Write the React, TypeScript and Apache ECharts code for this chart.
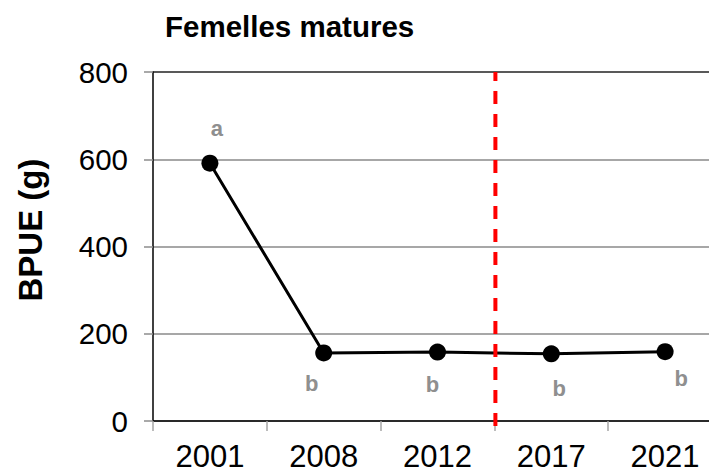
import React, { useEffect, useRef } from "react";
import * as echarts from "echarts";

const years = ["2001", "2008", "2012", "2017", "2021"];
const bpue = [591, 156, 158, 154, 159];
const sigLetters = ["a", "b", "b", "b", "b"];
const yTicks = { min: 0, max: 800, step: 200 };
const breakAfterIndex = 3; // red dashed separator between 2012 and 2017

// styling only: label offsets in px relative to the point
const letterOffsets: [number, number][] = [
  [7, -35],
  [-12, 31],
  [-5, 32],
  [8, 35],
  [16, 27],
];

const FONT = "'Liberation Sans', Arial, sans-serif";

export default function App() {
  const ref = useRef<HTMLDivElement>(null);
  useEffect(() => {
    if (!ref.current) return;
    const chart = echarts.init(ref.current, undefined, { renderer: "svg" });
    chart.setOption({
      animation: false,
      backgroundColor: "#ffffff",
      textStyle: { fontFamily: FONT },
      title: {
        text: "Femelles matures",
        left: 160,
        top: 6,
        textStyle: { fontFamily: FONT, fontSize: 29.5, fontWeight: "bold", color: "#000" },
      },
      graphic: [
        {
          type: "text",
          x: 30,
          y: 230,
          rotation: Math.PI / 2,
          style: {
            text: "BPUE (g)",
            font: `bold 33px ${FONT}`,
            fill: "#000",
            align: "center",
            verticalAlign: "middle",
          },
        },
      ],
      grid: {
        left: 153,
        top: 72,
        width: 569,
        height: 349,
        containLabel: false,
        outerBoundsMode: "none",
      },
      xAxis: [
        {
          type: "category",
          data: years,
          boundaryGap: true,
          axisLine: { show: true, lineStyle: { color: "#000", width: 1.5 } },
          axisTick: { show: true, length: 10, interval: 0, lineStyle: { color: "#a6a6a6", width: 1.5 } },
          axisLabel: { interval: 0, margin: 20, fontSize: 31, lineHeight: 31, color: "#000", fontFamily: FONT },
          splitLine: { show: false },
        },
        { type: "value", min: 0, max: years.length, show: false },
      ],
      yAxis: {
        type: "value",
        min: yTicks.min,
        max: yTicks.max,
        interval: yTicks.step,
        axisLine: { show: true, lineStyle: { color: "#000", width: 1.5 } },
        axisTick: { show: true, length: 9, lineStyle: { color: "#8c8c8c", width: 1.5 } },
        axisLabel: { margin: 25, fontSize: 29.5, color: "#000", fontFamily: FONT },
        splitLine: {
          show: true,
          lineStyle: {
            color: ["#8a8a8a", "#8a8a8a", "#8a8a8a", "#8a8a8a", "#222222"],
            width: 1.5,
          },
        },
      },
      series: [
        {
          type: "line",
          data: bpue.map((v, i) => ({
            value: v,
            label: {
              show: true,
              position: "inside",
              offset: letterOffsets[i],
              formatter: sigLetters[i],
              fontFamily: FONT,
              fontSize: 22,
              fontWeight: "bold",
              color: "#8f8f8f",
            },
          })),
          symbol: "circle",
          symbolSize: 17,
          itemStyle: { color: "#000" },
          lineStyle: { color: "#000", width: 3 },
          z: 3,
        },
        {
          type: "custom",
          xAxisIndex: 1,
          yAxisIndex: 0,
          data: [[breakAfterIndex, yTicks.max]],
          clip: false,
          silent: true,
          z: 5,
          renderItem: (_params: any, api: any) => {
            const x = api.value(0);
            const top = api.coord([x, yTicks.max]);
            const bottom = api.coord([x, yTicks.min]);
            return {
              type: "line",
              shape: { x1: top[0] + 1, y1: top[1], x2: bottom[0] + 1, y2: bottom[1] + 8 },
              style: { stroke: "#ff0000", lineWidth: 4, lineDash: [13, 10], lineDashOffset: 4 },
            };
          },
        },
      ],
    });
    return () => chart.dispose();
  }, []);
  return (
    <div
      ref={ref}
      style={{ position: "absolute", left: 0, top: 0, width: 709, height: 474 }}
    />
  );
}
